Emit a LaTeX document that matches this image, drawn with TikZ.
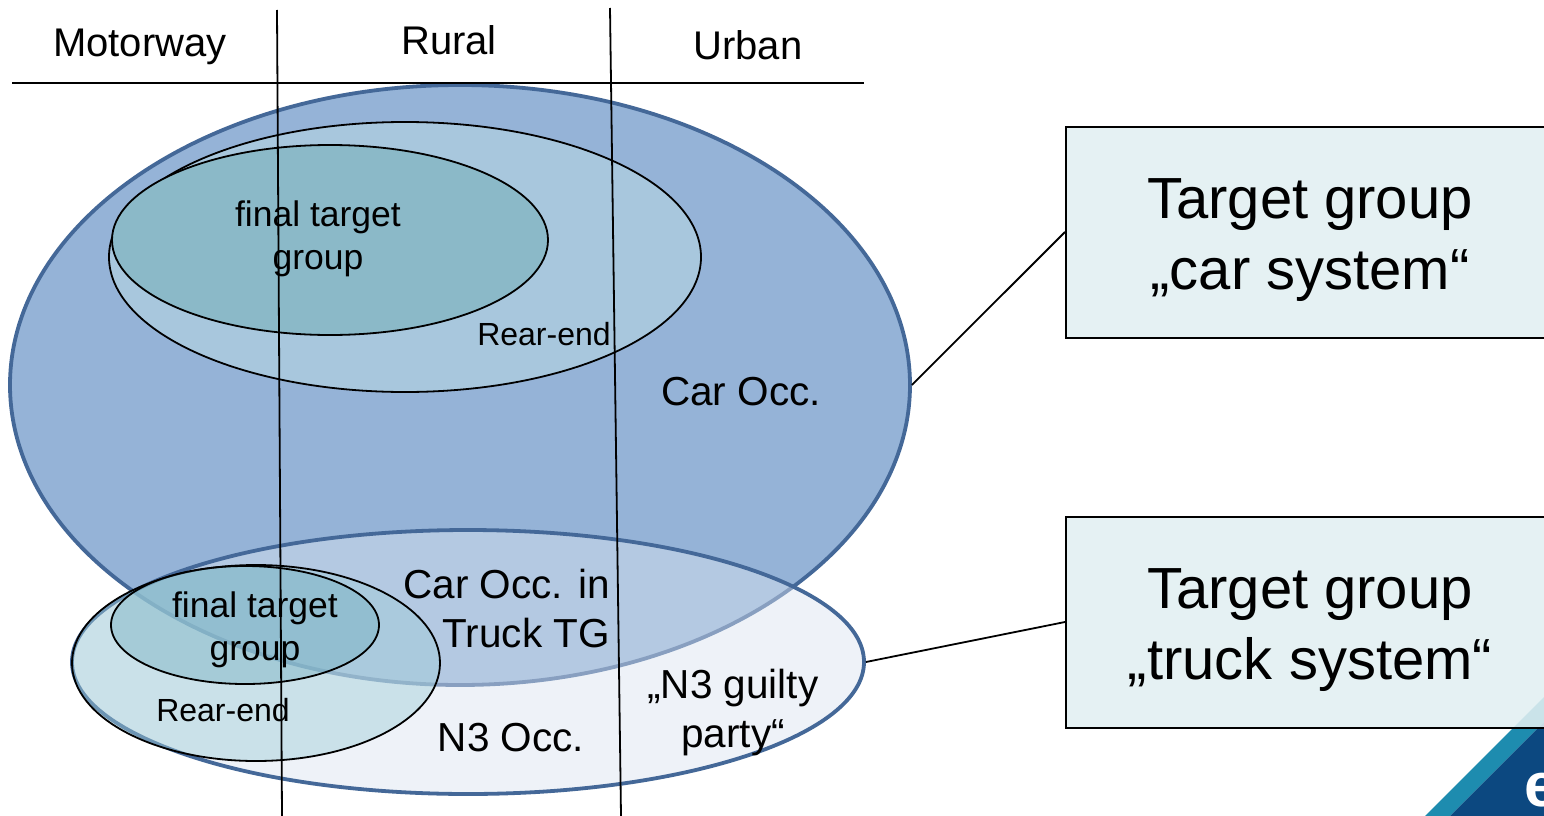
\documentclass[tikz,border=0pt]{standalone}
\usepackage{fontspec}
\setmainfont{Liberation Sans}
\usetikzlibrary{shapes.geometric}
\definecolor{carfill}{RGB}{149,179,215}
\definecolor{blueedge}{RGB}{68,104,152}
\definecolor{rearfill}{RGB}{168,199,221}
\definecolor{finalfill}{RGB}{139,185,200}
\definecolor{truckfill}{RGB}{219,228,241}
\definecolor{trearfill}{RGB}{160,205,215}
\definecolor{tfinalfill}{RGB}{110,172,190}
\definecolor{boxfill}{RGB}{226,240,242}
\definecolor{logoteal}{RGB}{30,140,175}
\definecolor{logonavy}{RGB}{12,72,128}
\tikzset{
  set/.style={ellipse, inner sep=0pt},
  bigset/.style={set, draw=blueedge, line width=3.8pt},
  subset/.style={set, draw=black, line width=1.8pt},
  lbl/.style={inner sep=0pt, align=center, text=black},
  hdr/.style={lbl, font=\fontsize{40}{48}\selectfont},
  mid/.style={lbl, font=\fontsize{40.5}{49}\selectfont},
  small/.style={lbl, font=\fontsize{35.5}{43}\selectfont},
  tiny/.style={lbl, font=\fontsize{32}{38}\selectfont},
  tgbox/.style={draw=black, line width=2pt, fill=boxfill, fill opacity=0.88, minimum width=490pt, minimum height=211pt, inner sep=0pt},
  tgtext/.style={lbl, font=\fontsize{58}{71}\selectfont},
  rule/.style={draw=black, line width=1.8pt},
  conn/.style={draw=black, line width=1.8pt}
}
\begin{document}
\begin{tikzpicture}[x=1pt, y=-1pt]
\useasboundingbox (0,0) rectangle (1544,816);
\clip (0,0) rectangle (1544,816);
\fill[white] (0,0) rectangle (1544,816);
% logo corner
\fill[logoteal] (1425,816) -- (1544,697) -- (1544,722) -- (1450,816) -- cycle;
\fill[logonavy] (1450,816) -- (1544,722) -- (1544,816) -- cycle;
\node[anchor=west, inner sep=0pt, text=white, font=\fontsize{62}{62}\selectfont\bfseries] (logoe) at (1524,790) {e};
% car system sets
\node[bigset, fill=carfill, minimum width=900pt, minimum height=600pt] (car) at (460,385) {};
\node[subset, fill=rearfill, minimum width=592pt, minimum height=270pt] (carrear) at (405,257) {};
\node[subset, fill=finalfill, minimum width=436pt, minimum height=190pt] (carfinal) at (330,240) {};
% truck system sets
\node[bigset, fill=truckfill, fill opacity=0.45, minimum width=792pt, minimum height=264pt] (truck) at (468,662) {};
\node[subset, fill=trearfill, fill opacity=0.45, minimum width=368pt, minimum height=196pt] (truckrear) at (256,663) {};
\node[subset, fill=tfinalfill, fill opacity=0.4, minimum width=268pt, minimum height=118pt] (truckfinal) at (245,625) {};
% header and columns
\coordinate (hl) at (12,83);
\coordinate (hr) at (864,83);
\coordinate (v1t) at (277,10);
\coordinate (v1b) at (282,816);
\coordinate (v2t) at (610,8);
\coordinate (v2b) at (621,816);
\draw[rule] (hl) -- (hr);
\draw[rule] (v1t) -- (v1b);
\draw[rule] (v2t) -- (v2b);
\node[hdr] (motorway) at (140,47) {Motorway};
\node[hdr] (rural) at (449,40) {Rural};
\node[hdr] (urban) at (748,45) {Urban};
% labels
\node[small] (carfinallbl) at (318,239) {final target\\group};
\node[tiny] (carrearlbl) at (544,334) {Rear-end};
\node[mid] (carocc) at (741,392) {Car Occ.};
\node[small] (truckfinallbl) at (255,630) {final target\\group};
\node[tiny] (truckrearlbl) at (223,710) {Rear-end};
\node[mid, anchor=east, align=right] (carintruck) at (610,609) {Car Occ. in\\Truck TG};
\node[mid] (n3occ) at (511,738) {N3 Occ.};
\node[mid] (n3guilty) at (733,713) {„N3 guilty\\party“};
% target group boxes
\node[tgbox] (carbox) at (1311,232) {};
\node[tgbox] (truckbox) at (1311,622) {};
\node[tgtext] (cartext) at (1310,240) {Target group\\„car system“};
\node[tgtext] (trucktext) at (1310,630) {Target group\\„truck system“};
\draw[conn] (car.east) -- (carbox.west);
\draw[conn] (truck.east) -- (truckbox.west);
\end{tikzpicture}
\end{document}
